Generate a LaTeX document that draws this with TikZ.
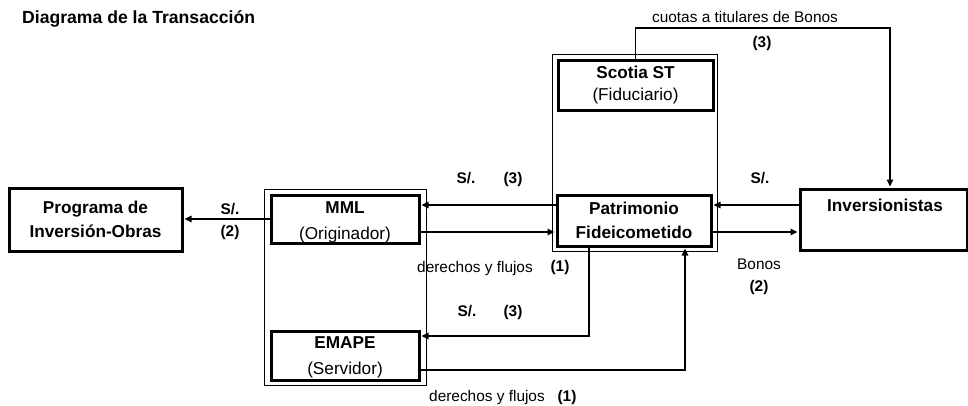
\documentclass[tikz,border=0pt]{standalone}
\usepackage{fontspec}
\setmainfont{Liberation Sans}
\usetikzlibrary{arrows.meta}
\begin{document}
\begin{tikzpicture}[x=1pt,y=-1pt,
  box/.style={draw, line width=3pt, align=center, inner sep=0pt, font=\fontsize{17.2}{24.5}\selectfont},
  grp/.style={draw, line width=0.9pt, inner sep=0pt},
  conn/.style={line width=1.3pt, -{Triangle[length=7pt,width=6.5pt]}, shorten >=1pt},
  lab/.style={font=\fontsize{15.4}{18}\selectfont, inner sep=0pt, text height=11pt, text depth=2pt},
  blab/.style={lab, font=\fontsize{15.4}{18}\selectfont\bfseries},
]
\useasboundingbox (0,0) rectangle (968,405);

% title
\node[anchor=base west, inner sep=0pt, font=\fontsize{17.6}{20}\selectfont\bfseries] (title) at (22,23.3) {Diagrama de la Transacción};

% group frames
\node[grp, minimum width=162, minimum height=196] (g1) at (345,287) {};
\node[grp, minimum width=165, minimum height=197] (g2) at (634.5,152.5) {};

% boxes
\node[box, minimum width=173, minimum height=63] (prog) at (95.5,219.5) {\textbf{Programa de}\\\textbf{Inversión-Obras}};
\node[box, minimum width=148, minimum height=48, font=\fontsize{17.2}{26}\selectfont] (mml) at (345,219) {\rule{0pt}{18pt}\textbf{MML}\\(Originador)};
\node[box, minimum width=148, minimum height=49, font=\fontsize{17.2}{26}\selectfont] (emape) at (345,355.5) {\rule{0pt}{16.5pt}\textbf{EMAPE}\\(Servidor)};
\node[box, minimum width=155, minimum height=50, font=\fontsize{17.2}{21.5}\selectfont] (scotia) at (635.5,85) {\textbf{Scotia ST}\\(Fiduciario)};
\node[box, minimum width=154, minimum height=51] (patr) at (634,220.5) {\textbf{Patrimonio}\\\textbf{Fideicometido}};
\node[box, minimum width=167, minimum height=61] (inv) at (883.5,219.5) {};
\node[inner sep=0pt, font=\fontsize{17.2}{20}\selectfont\bfseries, text height=12.5pt, text depth=3pt] (invt) at (885,207) {Inversionistas};

% helper coordinates
\coordinate (hA) at (0,205);
\coordinate (hB) at (0,232);
\coordinate (hT) at (0,28);
\coordinate (vx) at (890,0);
\coordinate (hC) at (0,336);
\coordinate (lx) at (589,0);
\coordinate (hD) at (0,370);
\coordinate (rx) at (685,0);

% connectors
\draw[conn] (mml.west) -- (prog.east |- mml.west);
\draw[conn] (patr.west |- hA) -- (mml.east |- hA);
\draw[conn] (mml.east |- hB) -- (patr.west |- hB);
\draw[conn] (inv.west |- hA) -- (patr.east |- hA);
\draw[conn] (patr.east |- hB) -- (inv.west |- hB);
\draw[conn] (scotia.north) |- (vx |- hT) -- (vx |- inv.north);
\draw[conn] (lx |- patr.south) -- (lx |- hC) -- (emape.east |- hC);
\draw[conn] (emape.east |- hD) -- (rx |- hD) -- (rx |- patr.south);

% labels
\node[blab] (l1) at (230,210) {S/.};
\node[blab] (l2) at (230,232) {(2)};
\node[blab] (l3) at (466,179) {S/.};
\node[blab] (l4) at (513,179) {(3)};
\node[lab] (l5) at (475,268) {derechos y flujos};
\node[blab] (l6) at (560,267) {(1)};
\node[blab] (l7) at (760,179) {S/.};
\node[lab] (l8) at (759,265) {Bonos};
\node[blab] (l9) at (759,287) {(2)};
\node[lab] (l10) at (745,18) {cuotas a titulares de Bonos};
\node[blab] (l11) at (762,43) {(3)};
\node[blab] (l12) at (467,312) {S/.};
\node[blab] (l13) at (513,312) {(3)};
\node[lab] (l14) at (487,397) {derechos y flujos};
\node[blab] (l15) at (567,397) {(1)};
\end{tikzpicture}
\end{document}
